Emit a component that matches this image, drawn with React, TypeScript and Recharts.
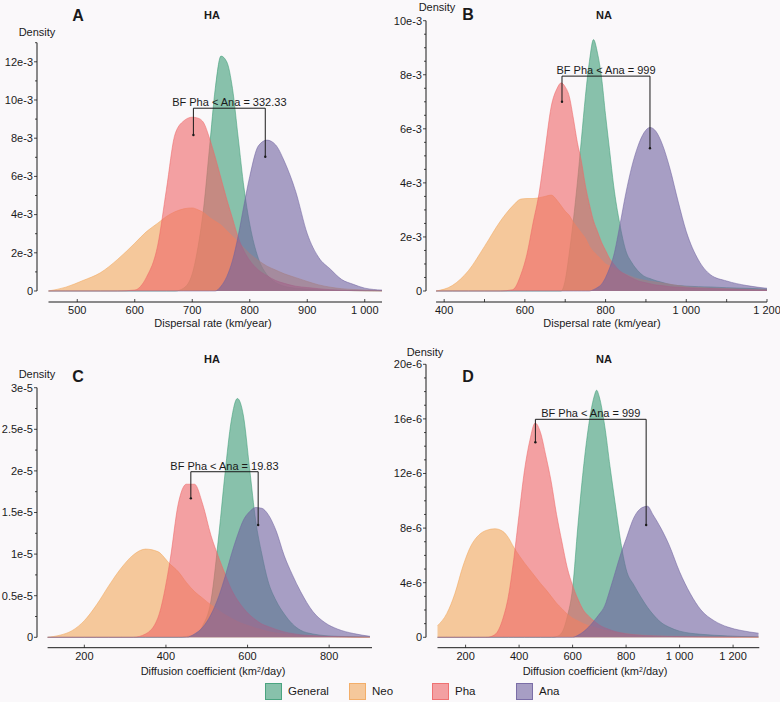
import React from 'react';
import { AreaChart, Area, XAxis, YAxis, ReferenceLine, ReferenceDot } from 'recharts';

const FONT = "'Liberation Sans', Arial, Helvetica, sans-serif";
const INK = '#1a1a1a';
const BG = '#faf8fa';

const SERIES = ['general', 'neo', 'pha', 'ana'] as const;
const SERIES_NAMES = ['General', 'Neo', 'Pha', 'Ana'];
const COLORS: Record<string, string> = {
  general: '#3C9C76',
  neo: '#F2A85C',
  pha: '#EE6667',
  ana: '#7062A0',
};

// A: dispersal rate, HA (density in 1e-3)
const aX = [450, 480, 510, 540, 570, 600, 620, 640, 655, 670, 685, 700, 710, 720, 730, 740, 750, 760, 770, 780, 790, 800, 815, 830, 845, 860, 880, 900, 920, 940, 960, 980, 1000, 1030];
const aGeneral = [0, 0, 0, 0, 0, 0, 0, 0, 0, 0, 0.15, 0.9, 2.3, 4.4, 7.5, 10.6, 12.3, 12.0, 10.6, 8.0, 5.4, 3.5, 1.7, 0.85, 0.45, 0.25, 0.15, 0.1, 0.06, 0.04, 0.03, 0.02, 0.01, 0];
const aNeo = [0, 0.2, 0.55, 0.95, 1.65, 2.5, 3.1, 3.55, 3.9, 4.15, 4.3, 4.35, 4.25, 4.1, 3.85, 3.65, 3.45, 3.15, 2.85, 2.55, 2.25, 1.95, 1.6, 1.3, 1.1, 0.9, 0.7, 0.5, 0.32, 0.2, 0.12, 0.08, 0.05, 0.02];
const aPha = [0, 0, 0, 0, 0, 0.05, 0.7, 2.4, 5.3, 8.2, 8.9, 9.1, 9.05, 8.8, 8.0, 7.0, 5.9, 4.8, 3.8, 2.8, 2.1, 1.6, 1.1, 0.8, 0.55, 0.4, 0.25, 0.18, 0.12, 0.07, 0.04, 0.02, 0.01, 0];
const aAna = [0, 0, 0, 0, 0, 0, 0, 0, 0, 0, 0, 0, 0, 0, 0, 0, 0.25, 0.75, 1.6, 2.9, 4.5, 6.0, 7.6, 7.9, 7.65, 6.8, 5.2, 3.0, 1.75, 1.15, 0.6, 0.35, 0.15, 0.05];
const aXTicks = [500, 600, 700, 800, 900, 1000];
const aYTicks = [0, 1, 2, 3, 4, 5, 6, 7, 8, 9, 10, 11, 12, 13];

// B: dispersal rate, NA (density in 1e-3)
const bX = [380, 420, 460, 500, 540, 570, 590, 605, 620, 635, 650, 665, 680, 690, 700, 710, 720, 730, 740, 750, 760, 770, 780, 790, 800, 810, 820, 835, 850, 865, 880, 895, 910, 925, 940, 960, 980, 1000, 1030, 1060, 1100, 1150, 1200];
const bGeneral = [0, 0, 0, 0, 0, 0, 0, 0, 0, 0, 0, 0, 0, 0, 0.4, 1.4, 2.6, 4.0, 5.6, 7.2, 8.5, 9.3, 8.8, 7.9, 6.5, 5.2, 3.9, 2.5, 1.5, 1.05, 0.75, 0.55, 0.46, 0.38, 0.32, 0.24, 0.2, 0.18, 0.16, 0.15, 0.12, 0.1, 0.07];
const bNeo = [0, 0.2, 0.75, 1.65, 2.6, 3.15, 3.4, 3.42, 3.42, 3.45, 3.5, 3.55, 3.35, 3.15, 2.95, 2.8, 2.55, 2.35, 2.15, 1.95, 1.65, 1.45, 1.3, 1.15, 1.0, 0.92, 0.85, 0.72, 0.62, 0.53, 0.45, 0.4, 0.36, 0.33, 0.3, 0.25, 0.2, 0.16, 0.13, 0.11, 0.09, 0.06, 0.04];
const bPha = [0, 0, 0, 0, 0, 0.05, 0.6, 1.35, 2.5, 3.6, 5.2, 6.8, 7.5, 7.7, 7.55, 7.2, 6.4, 5.5, 4.8, 3.9, 3.2, 2.6, 2.2, 1.8, 1.5, 1.2, 1.0, 0.75, 0.6, 0.48, 0.38, 0.32, 0.27, 0.22, 0.2, 0.16, 0.14, 0.12, 0.1, 0.09, 0.07, 0.05, 0.03];
const bAna = [0, 0, 0, 0, 0, 0, 0, 0, 0, 0, 0, 0, 0, 0, 0, 0, 0, 0, 0, 0, 0, 0.05, 0.13, 0.25, 0.5, 0.85, 1.3, 2.4, 3.6, 4.6, 5.35, 5.85, 6.05, 5.9, 5.45, 4.5, 3.3, 2.2, 1.15, 0.6, 0.37, 0.2, 0.1];
const bXTicks = [400, 500, 600, 700, 800, 900, 1000, 1100, 1200];
const bYTicks = [0, 0.5, 1, 1.5, 2, 2.5, 3, 3.5, 4, 4.5, 5, 5.5, 6, 6.5, 7, 7.5, 8, 8.5, 9, 9.5, 10];

// C: diffusion coefficient, HA (density in 1e-6)
const cX = [110, 140, 170, 200, 230, 260, 290, 320, 350, 380, 410, 430, 450, 470, 490, 510, 530, 545, 560, 575, 590, 605, 620, 635, 650, 670, 690, 710, 730, 760, 790, 820, 860, 900];
const cGeneral = [0, 0, 0, 0, 0, 0, 0, 0, 0, 0, 0, 0, 0.1, 0.3, 1.4, 4.3, 12.5, 19.8, 26.0, 28.7, 26.6, 20.3, 14.0, 10.0, 6.8, 4.4, 2.8, 1.6, 0.85, 0.4, 0.2, 0.12, 0.06, 0.02];
const cNeo = [0, 0.25, 0.8, 2.0, 3.9, 6.2, 8.3, 9.9, 10.6, 10.3, 8.8, 7.9, 6.6, 5.5, 4.7, 3.9, 3.2, 2.7, 2.3, 1.9, 1.6, 1.35, 1.1, 0.9, 0.7, 0.5, 0.4, 0.3, 0.2, 0.15, 0.1, 0.08, 0.05, 0.02];
const cPha = [0, 0, 0, 0, 0, 0, 0, 0, 0.4, 2.3, 9.2, 16.0, 18.4, 18.4, 16.0, 12.3, 9.5, 7.6, 5.8, 4.5, 3.5, 2.7, 2.1, 1.6, 1.3, 0.95, 0.65, 0.45, 0.3, 0.2, 0.12, 0.08, 0.04, 0.02];
const cAna = [0, 0, 0, 0, 0, 0, 0, 0, 0, 0, 0, 0, 0, 0.4, 1.2, 2.7, 5.0, 7.3, 9.9, 12.2, 14.1, 15.1, 15.6, 15.5, 14.8, 12.8, 9.8, 7.5, 5.5, 3.1, 1.75, 1.0, 0.45, 0.12];
const cXTicks = [200, 400, 600, 800];
const cYTicks = [0, 2.5, 5, 7.5, 10, 12.5, 15, 17.5, 20, 22.5, 25, 27.5, 30];

// D: diffusion coefficient, NA (density in 1e-6)
const dX = [95, 130, 160, 190, 220, 250, 280, 310, 340, 360, 380, 400, 420, 440, 460, 480, 500, 520, 540, 560, 580, 600, 620, 640, 660, 680, 690, 700, 720, 740, 760, 780, 800, 830, 860, 880, 900, 930, 960, 1000, 1040, 1080, 1130, 1180, 1230, 1295];
const dGeneral = [0, 0, 0, 0, 0, 0, 0, 0, 0, 0, 0, 0, 0, 0, 0, 0, 0, 0, 0.05, 0.35, 1.5, 3.6, 8.2, 12.3, 15.5, 17.6, 18.1, 17.6, 15.5, 12.5, 9.7, 7.0, 5.0, 3.8, 2.8, 2.2, 1.7, 1.1, 0.75, 0.45, 0.3, 0.22, 0.15, 0.1, 0.06, 0.03];
const dNeo = [0.85, 1.75, 3.2, 5.2, 6.7, 7.5, 7.85, 7.95, 7.75, 7.3, 6.6, 6.0, 5.45, 4.95, 4.45, 3.95, 3.5, 3.0, 2.5, 2.1, 1.7, 1.4, 1.2, 1.0, 0.85, 0.75, 0.68, 0.62, 0.52, 0.45, 0.38, 0.32, 0.27, 0.2, 0.16, 0.14, 0.12, 0.1, 0.08, 0.07, 0.06, 0.05, 0.04, 0.03, 0.02, 0.02];
const dPha = [0, 0, 0, 0, 0, 0, 0, 0.2, 1.4, 3.0, 5.7, 9.0, 12.2, 14.4, 15.7, 15.0, 13.3, 11.4, 9.0, 7.0, 5.1, 3.8, 2.8, 2.0, 1.55, 1.2, 1.05, 0.9, 0.7, 0.55, 0.42, 0.33, 0.25, 0.18, 0.13, 0.11, 0.1, 0.08, 0.06, 0.05, 0.04, 0.03, 0.02, 0.02, 0.01, 0.01];
const dAna = [0, 0, 0, 0, 0, 0, 0, 0, 0, 0, 0, 0, 0, 0, 0, 0, 0, 0, 0, 0, 0, 0, 0.15, 0.4, 0.75, 1.2, 1.45, 1.7, 2.3, 3.5, 4.8, 6.1, 7.2, 8.8, 9.5, 9.6, 9.0, 8.0, 6.8, 4.8, 3.2, 2.0, 1.2, 0.75, 0.5, 0.3];
const dXTicks = [200, 400, 600, 800, 1000, 1200];
const dYTicks = [0, 1, 2, 3, 4, 5, 6, 7, 8, 9, 10, 11, 12, 13, 14, 15, 16, 17, 18, 19, 20];

// Bayes factor brackets: [left x, right x, bar y, left tip y, right tip y]
const aBracket = [702, 827, 9.57, 8.17, 7.03];
const bBracket = [692, 910, 7.95, 7.0, 5.28];
const cBracket = [461, 626, 19.9, 16.7, 13.5];
const dBracket = [461, 875, 15.97, 14.29, 8.23];

const fmtThousands = (v: number) => (v >= 1000 ? `${Math.floor(v / 1000)}\u00a0${String(v % 1000).padStart(3, '0')}` : String(v));

function XTick(props: any) {
  const { x, y, payload, labelled } = props;
  const v = payload.value;
  return (
    <g>
      <line x1={x} x2={x} y1={y - 3} y2={y} stroke={INK} strokeWidth={0.8} />
      {labelled(v) && (
        <text x={x} y={y + 12} textAnchor="middle" fontSize={11} fontFamily={FONT} fill={INK}>
          {fmtThousands(v)}
        </text>
      )}
    </g>
  );
}

function YTick(props: any) {
  const { x, y, payload, major, fmt } = props;
  const v = payload.value;
  const isMajor = major(v);
  return (
    <g>
      <line x1={x - (isMajor ? 3 : 2)} x2={x} y1={y} y2={y} stroke={INK} strokeWidth={0.8} />
      {isMajor && (
        <text x={x - 4} y={y} dy="0.35em" textAnchor="end" fontSize={11} fontFamily={FONT} fill={INK}>
          {fmt(v)}
        </text>
      )}
    </g>
  );
}

// margins exclude the 1px axis boxes (YAxis width 1, XAxis height 1)
const panels = [
  {
    box: { left: 0, top: 0, width: 390, height: 330 },
    margin: { top: 42.7, left: 36, right: 8, bottom: 27 },
    x: aX, general: aGeneral, neo: aNeo, pha: aPha, ana: aAna,
    xDomain: [430, 1030], xLine: [450, 1030], xTicks: aXTicks, xLabelled: () => true,
    yDomain: [-0.576, 13], yTop: 13, yTicks: aYTicks,
    major: (v: number) => v % 2 === 0, fmt: (v: number) => (v === 0 ? '0' : `${v}e-3`),
    bracket: aBracket, bf: 'BF Pha < Ana = 332.33',
  },
  {
    box: { left: 390, top: 0, width: 390, height: 330 },
    margin: { top: 20.7, left: 35, right: 13, bottom: 27 },
    x: bX, general: bGeneral, neo: bNeo, pha: bPha, ana: bAna,
    xDomain: [355, 1200], xLine: [380, 1200], xTicks: bXTicks, xLabelled: (v: number) => v % 200 === 0,
    yDomain: [-0.407, 10], yTop: 10, yTicks: bYTicks,
    major: (v: number) => v % 2 === 0, fmt: (v: number) => (v === 0 ? '0' : `${v}e-3`),
    bracket: bBracket, bf: 'BF Pha < Ana = 999',
  },
  {
    box: { left: 0, top: 330, width: 390, height: 350 },
    margin: { top: 57.7, left: 36, right: 18, bottom: 31.3 },
    x: cX, general: cGeneral, neo: cNeo, pha: cPha, ana: cAna,
    xDomain: [84, 905], xLine: [110, 905], xTicks: cXTicks, xLabelled: () => true,
    yDomain: [-1.25, 30], yTop: 30, yTicks: cYTicks,
    major: (v: number) => v % 5 === 0, fmt: (v: number) => (v === 0 ? '0' : `${v / 10}e-5`),
    bracket: cBracket, bf: 'BF Pha < Ana = 19.83',
  },
  {
    box: { left: 390, top: 330, width: 390, height: 350 },
    margin: { top: 34.3, left: 35, right: 20.7, bottom: 31.3 },
    x: dX, general: dGeneral, neo: dNeo, pha: dPha, ana: dAna,
    xDomain: [52, 1298], xLine: [95, 1298], xTicks: dXTicks, xLabelled: () => true,
    yDomain: [-0.762, 20], yTop: 20, yTicks: dYTicks,
    major: (v: number) => v % 4 === 0, fmt: (v: number) => (v === 0 ? '0' : `${v}e-6`),
    bracket: dBracket, bf: 'BF Pha < Ana = 999',
  },
];

function Panel({ cfg }: { cfg: any }) {
  const data = cfg.x.map((x: number, i: number) => ({
    x,
    general: cfg.general[i],
    neo: cfg.neo[i],
    pha: cfg.pha[i],
    ana: cfg.ana[i],
  }));
  const [bl, br, bTop, bLeftTip, bRightTip] = cfg.bracket;
  const lineProps = { stroke: INK, strokeWidth: 1, ifOverflow: 'visible' as const };
  return (
    <div style={{ position: 'absolute', left: cfg.box.left, top: cfg.box.top }}>
      <AreaChart width={cfg.box.width} height={cfg.box.height} data={data} margin={cfg.margin}>
        <XAxis
          dataKey="x"
          type="number"
          domain={cfg.xDomain}
          allowDataOverflow
          ticks={cfg.xTicks}
          interval={0}
          axisLine={false}
          tickLine={false}
          tickSize={0}
          tickMargin={0}
          height={1}
          tick={(p: any) => <XTick {...p} labelled={cfg.xLabelled} />}
        />
        <YAxis
          type="number"
          domain={cfg.yDomain}
          allowDataOverflow
          ticks={cfg.yTicks}
          interval={0}
          axisLine={false}
          tickLine={false}
          tickSize={0}
          tickMargin={0}
          width={1}
          tick={(p: any) => <YTick {...p} major={cfg.major} fmt={cfg.fmt} />}
        />
        {SERIES.map((s) => (
          <Area
            key={s}
            type="monotone"
            dataKey={s}
            stroke={COLORS[s]}
            strokeWidth={0.6}
            strokeOpacity={0.9}
            fill={COLORS[s]}
            fillOpacity={0.6}
            dot={false}
            activeDot={false}
            isAnimationActive={false}
          />
        ))}
        {/* detached axis lines */}
        <ReferenceLine segment={[{ x: cfg.xDomain[0], y: 0 }, { x: cfg.xDomain[0], y: cfg.yTop }]} {...lineProps} />
        <ReferenceLine segment={[{ x: cfg.xLine[0], y: cfg.yDomain[0] }, { x: cfg.xLine[1], y: cfg.yDomain[0] }]} {...lineProps} />
        {/* BF bracket */}
        <ReferenceLine segment={[{ x: bl, y: bLeftTip }, { x: bl, y: bTop }]} {...lineProps} />
        <ReferenceLine segment={[{ x: br, y: bRightTip }, { x: br, y: bTop }]} {...lineProps} />
        <ReferenceLine
          segment={[{ x: bl, y: bTop }, { x: br, y: bTop }]}
          {...lineProps}
          label={{ value: cfg.bf, position: 'top', offset: 2, fill: INK, fontSize: 11, fontFamily: FONT }}
        />
        <ReferenceDot x={bl} y={bLeftTip} r={1.2} fill={INK} stroke="none" ifOverflow="visible" />
        <ReferenceDot x={br} y={bRightTip} r={1.2} fill={INK} stroke="none" ifOverflow="visible" />
      </AreaChart>
    </div>
  );
}

const texts = [
  { t: 'A', x: 78, y: 16, size: 16, bold: true },
  { t: 'HA', x: 212, y: 15, size: 11, bold: true },
  { t: 'Density', x: 37, y: 32, size: 11 },
  { t: 'Dispersal rate (km/year)', x: 213, y: 323, size: 11 },
  { t: 'Density', x: 437, y: 7, size: 11 },
  { t: 'B', x: 468, y: 15, size: 16, bold: true },
  { t: 'NA', x: 604, y: 15, size: 11, bold: true },
  { t: 'Dispersal rate (km/year)', x: 602, y: 323, size: 11 },
  { t: 'HA', x: 212, y: 359, size: 11, bold: true },
  { t: 'Density', x: 37, y: 374, size: 11 },
  { t: 'C', x: 78, y: 377, size: 16, bold: true },
  { t: 'Density', x: 425, y: 352, size: 11 },
  { t: 'NA', x: 604, y: 359, size: 11, bold: true },
  { t: 'D', x: 468, y: 377, size: 16, bold: true },
];

const axisTitles2 = [
  { x: 213, y: 671 },
  { x: 595, y: 671 },
];

const legendX = [265, 349, 432, 516];

export default function App() {
  return (
    <div
      style={{
        position: 'absolute',
        left: 0,
        top: 0,
        width: 780,
        height: 702,
        background: BG,
        fontFamily: FONT,
        color: INK,
        overflow: 'hidden',
      }}
    >
      {panels.map((cfg, i) => (
        <Panel key={i} cfg={cfg} />
      ))}
      {texts.map((d, i) => (
        <div
          key={i}
          style={{
            position: 'absolute',
            left: d.x,
            top: d.y,
            transform: 'translate(-50%, -50%)',
            fontSize: d.size,
            fontWeight: d.bold ? 700 : 400,
            whiteSpace: 'nowrap',
            lineHeight: 1,
          }}
        >
          {d.t}
        </div>
      ))}
      {axisTitles2.map((d, i) => (
        <div
          key={`c${i}`}
          style={{
            position: 'absolute',
            left: d.x,
            top: d.y,
            transform: 'translate(-50%, -50%)',
            fontSize: 11,
            whiteSpace: 'nowrap',
            lineHeight: 1,
          }}
        >
          Diffusion coefficient (km<sup style={{ fontSize: 7, verticalAlign: 'top', lineHeight: 1 }}>2</sup>/day)
        </div>
      ))}
      {SERIES.map((s, i) => (
        <div key={s} style={{ position: 'absolute', left: legendX[i], top: 683, display: 'flex', alignItems: 'center' }}>
          <div
            style={{
              width: 15,
              height: 15,
              background: COLORS[s] + '99',
              border: `1px solid ${COLORS[s]}cc`,
            }}
          />
          <span style={{ marginLeft: 6, fontSize: 11.5, lineHeight: 1 }}>{SERIES_NAMES[i]}</span>
        </div>
      ))}
    </div>
  );
}
